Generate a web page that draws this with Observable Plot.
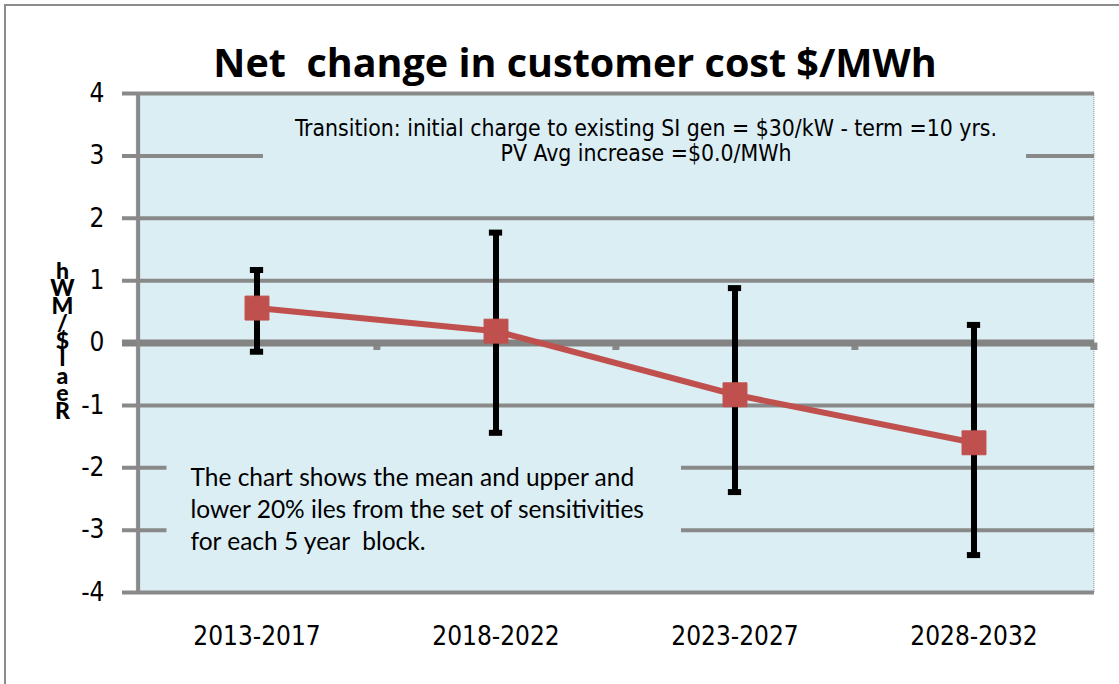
<!DOCTYPE html>
<html>
<head>
<meta charset="utf-8">
<script src="https://cdn.jsdelivr.net/npm/d3@7"></script>
<script src="https://cdn.jsdelivr.net/npm/@observablehq/plot@0.6"></script>
<style>
  html, body { margin: 0; padding: 0; background: #ffffff; }
  #wrap { position: relative; width: 1119px; height: 684px; overflow: hidden; }
  #border { position: absolute; left: 4px; top: 4px; right: -10px; bottom: -10px;
            border-left: 2.5px solid #8c8c8c; border-top: 2.5px solid #8c8c8c; pointer-events: none; }
</style>
</head>
<body>
<div id="wrap"><div id="border"></div></div>
<script>
// ---- data ----
const categories = ["2013-2017", "2018-2022", "2023-2027", "2028-2032"];
const meanValues = [0.56, 0.19, -0.83, -1.60];
const upperValues = [1.17, 1.77, 0.88, 0.29];
const lowerValues = [-0.14, -1.44, -2.39, -3.40];
const yTicks = [-4, -3, -2, -1, 0, 1, 2, 3, 4];
const titleText = "Net  change in customer cost $/MWh";
const yLabelText = "Real $/MWh";
const noteTop = "Transition: initial charge to existing SI gen = $30/kW - term =10 yrs.\nPV Avg increase =$0.0/MWh";
const noteBottom = "The chart shows the mean and upper and\nlower 20% iles from the set of sensitivities\nfor each 5 year  block.";

const rows = categories.map((c, i) => ({cat: c, mean: meanValues[i], hi: upperValues[i], lo: lowerValues[i]}));

const W = 1119, H = 684;
const mL = 135, mR = 25, mT = 93, mB = 92;
const band = (W - mL - mR) / categories.length;
const bg = "#dbeef4";
const grid = "#898989";
const red = "#c0504d";
const narrow = "'Liberation Sans Narrow', 'DejaVu Sans Condensed', 'Liberation Sans', sans-serif";
const calibriLike = "Lato, 'Open Sans', sans-serif";

const yMin = d3.min(yTicks), yMax = d3.max(yTicks);
// vertical label: stacked characters, read bottom-to-top
const yLabelStack = yLabelText.replace(" ", "").split("").reverse().join("\n");

const chart = Plot.plot({
  width: W,
  height: H,
  marginLeft: mL,
  marginRight: mR,
  marginTop: mT,
  marginBottom: mB,
  style: {background: "transparent", overflow: "visible"},
  x: {domain: categories, padding: 0, label: null},
  y: {domain: [yMin, yMax], label: null},
  marks: [
    Plot.frame({fill: bg, stroke: "none"}),
    // right edge: thin dotted line
    Plot.ruleX([categories[categories.length - 1]], {x: d => d, dx: band / 2, y1: yMin, y2: yMax, stroke: "#9a9a9a", strokeWidth: 1, strokeDasharray: "1,1"}),
    // gridlines (extend left as tick marks)
    Plot.ruleY(yTicks.filter(d => d !== 0), {y: d => d, stroke: grid, strokeWidth: 4, insetLeft: -13}),
    // zero axis line + minor ticks at category boundaries
    Plot.ruleX(categories, {x: d => d, dx: band / 2, y1: 0, y2: -0.12, stroke: grid, strokeWidth: 7}),
    Plot.ruleY([0], {stroke: "#838383", strokeWidth: 7, insetLeft: -13}),
    // left axis line
    Plot.ruleX([categories[0]], {x: d => d, dx: -band / 2 + 1, y1: yMin, y2: yMax, stroke: grid, strokeWidth: 4}),
    // axes
    Plot.axisY(yTicks, {tickSize: 0, tickPadding: 31, tickFormat: d => String(d), fontSize: 26, fontFamily: narrow, fill: "#000"}),
    Plot.axisX({tickSize: 0, tickPadding: 34, fontSize: 26, fontFamily: narrow, fill: "#000"}),
    // title
    Plot.text([titleText], {frameAnchor: "top", lineAnchor: "top", dx: -40, dy: -45, fontSize: 39.5, fontWeight: "bold", fontFamily: "'Open Sans', Lato, sans-serif", fill: "#000"}),
    // y label
    Plot.text([yLabelStack], {frameAnchor: "left", lineAnchor: "middle", textAnchor: "middle", dx: -73, dy: 0, fontSize: 23, lineHeight: 0.76, fontWeight: 900, fontFamily: calibriLike, fill: "#000"}),
    // notes
    Plot.text([noteTop], {frameAnchor: "top", lineAnchor: "top", textAnchor: "middle", dx: 31, dy: 25, fontSize: 22.8, lineHeight: 1.1, fontFamily: narrow, fill: "#000"}),
    Plot.text([noteBottom], {frameAnchor: "left", lineAnchor: "top", textAnchor: "start", dx: 55, dy: 120, fontSize: 24.5, lineHeight: 1.31, fontFamily: calibriLike, fill: "#000"}),
    // error bars
    Plot.ruleX(rows, {x: "cat", y1: "lo", y2: "hi", stroke: "#000", strokeWidth: 6}),
    Plot.tickY(rows, {x: "cat", y: "hi", stroke: "#000", strokeWidth: 6, insetLeft: (band - 14) / 2, insetRight: (band - 14) / 2}),
    Plot.tickY(rows, {x: "cat", y: "lo", stroke: "#000", strokeWidth: 6, insetLeft: (band - 14) / 2, insetRight: (band - 14) / 2}),
    // mean line + markers
    Plot.line(rows, {x: "cat", y: "mean", stroke: red, strokeWidth: 6}),
    Plot.dot(rows, {x: "cat", y: "mean", symbol: "square", r: 13.5, fill: red, stroke: red, strokeWidth: 1, strokeLinejoin: "round"})
  ]
});

document.getElementById("wrap").appendChild(chart);

// text-box backgrounds behind the notes (Excel text boxes hide the gridlines)
function boxBehind(startsWith, padL, padR, padT, padB) {
  const texts = Array.from(chart.querySelectorAll("text"));
  const t = texts.find(el => el.textContent.startsWith(startsWith));
  if (!t) return;
  const b = t.getBBox();
  const r = document.createElementNS("http://www.w3.org/2000/svg", "rect");
  r.setAttribute("x", b.x - padL);
  r.setAttribute("y", b.y - padT);
  r.setAttribute("width", b.width + padL + padR);
  r.setAttribute("height", b.height + padT + padB);
  r.setAttribute("fill", bg);
  const tr = t.getAttribute("transform");
  if (tr) r.setAttribute("transform", tr);
  t.parentNode.insertBefore(r, t);
}
boxBehind("Transition", 31, 29, 4, 4);
boxBehind("The chart", 24, 37, 4, 4);
</script>
</body>
</html>
